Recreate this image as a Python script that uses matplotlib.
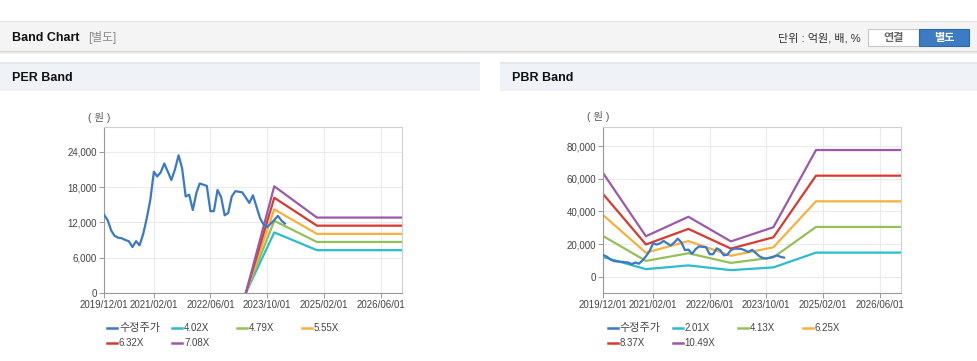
import matplotlib
matplotlib.use("Agg")
import matplotlib.pyplot as plt
import matplotlib.dates as mdates
from matplotlib.patches import Rectangle
from matplotlib.lines import Line2D
from matplotlib.ticker import FuncFormatter
import pandas as pd

plt.rcParams['font.family'] = ['Liberation Sans', 'Noto Sans CJK KR']

# 수정주가, monthly from 2019/12
price_start = '2019-12-01'
price = [13300, 12400, 10600, 9700, 9400, 9300, 9000, 8800, 7800, 8800, 8100, 10000,
         12600, 15800, 20600, 19800, 20500, 22000, 20600, 19200, 21000, 23400, 21200, 16400,
         16700, 14100, 17000, 18600, 18400, 18200, 13900, 13900, 17500, 16300, 13200, 13600,
         16400, 17300, 17200, 17100, 16200, 15300, 16600, 14700, 12700, 11600, 11200, 11800,
         12400, 13100, 12300, 11800]

# PER band: EPS
eps_dates = ['2023-04-01', '2023-12-01', '2024-12-01', '2026-12-01']
eps = [0, 2560, 1810, 1810]
per_mult = [4.02, 4.79, 5.55, 6.32, 7.08]

# PBR band: BPS
bps_dates = ['2019-12-01', '2020-12-01', '2021-12-01', '2022-12-01',
             '2023-12-01', '2024-12-01', '2026-12-01']
bps = [6030, 2370, 3505, 2070, 2895, 7393, 7393]
pbr_mult = [2.01, 4.13, 6.25, 8.37, 10.49]

band_colors = ['#2bbccd', '#94c155', '#f6b13d', '#d93a2f', '#9b59ac']
price_color = '#3b78c9'

xticks = ['2019-12-01', '2021-02-01', '2022-06-01', '2023-10-01', '2025-02-01', '2026-06-01']
xlim = ('2019-12-01', '2026-12-01')

W, H = 978, 361
fig = plt.figure(figsize=(W / 100, H / 100), dpi=100)


def rect(x0, y0, x1, y1, fc, ec='none', lw=0, z=0):
    fig.add_artist(Rectangle((x0 / W, 1 - y1 / H), (x1 - x0) / W, (y1 - y0) / H,
                             transform=fig.transFigure, facecolor=fc, edgecolor=ec,
                             linewidth=lw, zorder=z))


def ftext(x, y, s, **kw):
    fig.text(x / W, 1 - y / H, s, **kw)


# header bar
rect(0, 21, 978, 22.5, '#e2e2e2')
rect(0, 22.5, 978, 51, '#f4f4f4')
rect(0, 51, 978, 52, '#d4d4d4')
rect(0, 52, 978, 54, '#ececec')
ftext(12, 38, 'Band Chart', fontsize=9, fontweight='bold', va='center', color='#111111')
ftext(88, 38, '[별도]', fontsize=8.5, va='center', color='#8a8a8a')
ftext(861, 38, '단위 : 억원, 배, %', fontsize=8, va='center', ha='right', color='#333333')
rect(868, 28.5, 919, 46, '#ffffff', ec='#c8c8c8', lw=0.8, z=1)
ftext(893.5, 37.5, '연결', fontsize=8, va='center', ha='center', color='#666666', fontweight='bold')
rect(919, 28.5, 969, 46, '#3c7cc3', ec='#2f69a8', lw=0.8, z=1)
ftext(944, 37.5, '별도', fontsize=8, va='center', ha='center', color='white', fontweight='bold')

# panel headers
for x0, x1, title in [(0, 480, 'PER Band'), (500, 978, 'PBR Band')]:
    rect(x0, 62, x1, 64, '#e3e6ea')
    rect(x0, 64, x1, 91, '#eff2f7')
    ftext(x0 + 12, 78, title, fontsize=9, fontweight='bold', va='center', color='#111111')


def setup(ax, ylim, yticks):
    ax.set_xlim(pd.to_datetime(xlim[0]), pd.to_datetime(xlim[1]))
    ax.set_ylim(*ylim)
    ax.set_xticks(pd.to_datetime(xticks))
    ax.xaxis.set_major_formatter(mdates.DateFormatter('%Y/%m/%d'))
    ax.set_yticks(yticks)
    ax.yaxis.set_major_formatter(FuncFormatter(lambda v, p: f'{v:,.0f}'))
    ax.grid(True, color='#ebebeb', linewidth=0.8)
    ax.set_axisbelow(True)
    ax.tick_params(labelsize=7, length=3.5, width=0.7, pad=1.5,
                   colors='#999999', labelcolor='#444444')
    for s in ['left', 'bottom']:
        ax.spines[s].set_color('#9a9a9a')
        ax.spines[s].set_linewidth(0.8)
    for s in ['top', 'right']:
        ax.spines[s].set_color('#cfcfcf')
        ax.spines[s].set_linewidth(0.8)
    ax.text(-0.017, 1.06, '( 원 )', transform=ax.transAxes, ha='center', va='center',
            fontsize=7.5, color='#555555')


price_dates = pd.date_range(price_start, periods=len(price), freq='MS')

# PER
ax1 = fig.add_axes([104 / W, 1 - 293 / H, 298 / W, 166 / H])
setup(ax1, (0, 28200), [0, 6000, 12000, 18000, 24000])
ax1.plot(price_dates, price, color=price_color, lw=1.6, zorder=3)
for m, c in zip(per_mult, band_colors):
    ax1.plot(pd.to_datetime(eps_dates), [e * m for e in eps], color=c, lw=1.6, zorder=2)

# PBR
ax2 = fig.add_axes([603.3 / W, 1 - 293.3 / H, 297.7 / W, 166.6 / H])
setup(ax2, (-10000, 91800), [0, 20000, 40000, 60000, 80000])
ax2.plot(price_dates, price, color=price_color, lw=1.6, zorder=3)
for m, c in zip(pbr_mult, band_colors):
    ax2.plot(pd.to_datetime(bps_dates), [b * m for b in bps], color=c, lw=1.6, zorder=2)


def legend(x0, mults):
    labels = ['수정주가'] + [f'{m:.2f}X' for m in mults]
    colors = [price_color] + band_colors
    for i, (lab, c) in enumerate(zip(labels, colors)):
        x = x0 + (i % 4) * 65
        y = 328 + (i // 4) * 15
        fig.add_artist(Line2D([x / W, (x + 10) / W], [1 - y / H, 1 - y / H],
                              transform=fig.transFigure, color=c, lw=1.8))
        ftext(x + 12, y, lab, fontsize=8 if i == 0 else 7, va='center', color='#444444')


legend(107, per_mult)
legend(607.7, pbr_mult)

fig.savefig('out.png', dpi=100, facecolor='white')
